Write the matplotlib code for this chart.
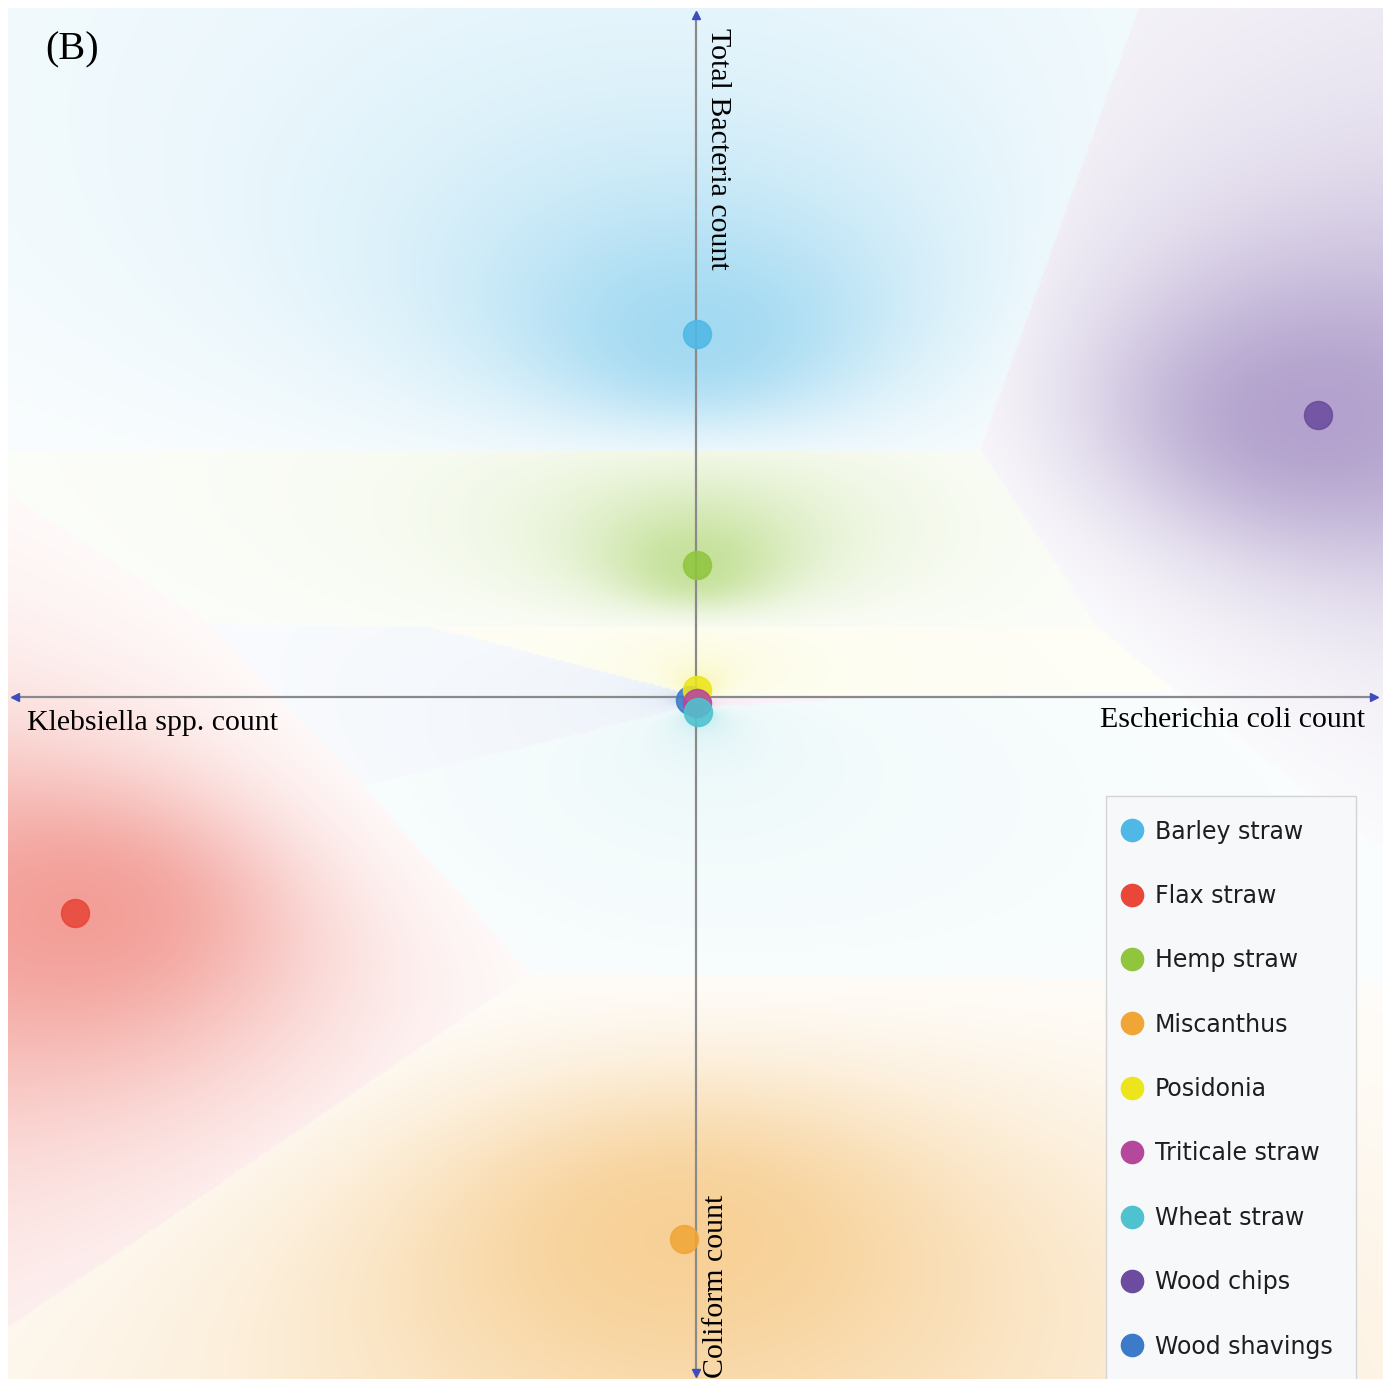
import numpy as np
import matplotlib.pyplot as plt
from matplotlib.colors import to_rgb
from matplotlib.lines import Line2D

# muestras y posiciones en la proyeccion
samples = ["Barley straw", "Flax straw", "Hemp straw", "Miscanthus", "Posidonia",
           "Triticale straw", "Wheat straw", "Wood chips", "Wood shavings"]
x_vals = [0.002, -0.903, 0.002, -0.017, 0.002, 0.002, 0.004, 0.905, -0.008]
y_vals = [0.528, -0.314, 0.192, -0.788, 0.010, -0.009, -0.022, 0.410, -0.004]
colors = ["#4fb8e6", "#e8473a", "#90c63e", "#f0a637", "#ece51c",
          "#b5479c", "#4ec3cf", "#6b4c9f", "#3b7bc9"]
axis_labels = ["Total Bacteria count", "Coliform count",
               "Klebsiella spp. count", "Escherichia coli count"]

fig = plt.figure(figsize=(13.85, 13.79), dpi=100)
ax = fig.add_axes([8 / 1385, 0, 1375 / 1385, 1371 / 1379])
x0, x1, y0, y1 = -1.0, 1.0, -0.992, 1.002
ax.set_xlim(x0, x1)
ax.set_ylim(y0, y1)
ax.axis("off")

# mapa de fondo (probabilidad de clase por distancia inversa)
gx = np.linspace(x0, x1, 700)
gy = np.linspace(y0, y1, 700)
X, Y = np.meshgrid(gx, gy)
px = np.array(x_vals)
py = np.array(y_vals)
dx = (X[..., None] - px) / 1.66
dy = Y[..., None] - py
d2 = dx ** 2 + dy ** 2 + 1e-7
w = d2 ** -1.2
p = w / w.sum(axis=-1, keepdims=True)
idx = p.argmax(axis=-1)
pmax = p.max(axis=-1)
cols = np.array([to_rgb(c) for c in colors])
a = 0.52 * pmax ** 1.5
rgb = 1 - a[..., None] * (1 - cols[idx])
ax.imshow(rgb, extent=(x0, x1, y0, y1), origin="lower", aspect="auto",
          interpolation="bilinear", zorder=0)

# ejes
ax.plot([-0.99, 0.987], [0, 0], color="#8a8a8a", lw=1.6, zorder=1)
ax.plot([0, 0], [-0.983, 0.992], color="#8a8a8a", lw=1.6, zorder=1)
ax.plot([-0.99], [0], marker="<", color="#3c4dbf", ms=6, zorder=2)
ax.plot([0.987], [0], marker=">", color="#3c4dbf", ms=6, zorder=2)
ax.plot([0], [0.992], marker="^", color="#3c4dbf", ms=6, zorder=2)
ax.plot([0], [-0.983], marker="v", color="#3c4dbf", ms=6, zorder=2)

serif = "Liberation Serif"
ax.text(0.0138, 0.973, axis_labels[0], rotation=-90, ha="left", va="top",
        fontsize=21.5, family=serif, zorder=3)
ax.text(0.011, -0.99, axis_labels[1], rotation=90, ha="left", va="bottom",
        fontsize=21.5, family=serif, zorder=3)
ax.text(-0.9724, -0.0378, axis_labels[2], ha="left", va="center",
        fontsize=21.5, family=serif, zorder=3)
ax.text(0.974, -0.0335, axis_labels[3], ha="right", va="center",
        fontsize=21.5, family=serif, zorder=3)
ax.text(-0.946, 0.941, "(B)", ha="left", va="center", fontsize=29,
        family=serif, zorder=3)

# puntos
order = [8, 7, 0, 1, 2, 3, 4, 5, 6]
for i in order:
    ax.scatter(x_vals[i], y_vals[i], s=400, color=colors[i], alpha=0.88,
               edgecolors=colors[i], linewidths=1.2, zorder=4 + order.index(i))

handles = [Line2D([], [], marker="o", ls="", ms=16, color=c, markeredgecolor=c)
           for c in colors]
leg = fig.legend(handles, samples, loc="upper left",
                 bbox_to_anchor=(1106 / 1385, 1 - 796 / 1379),
                 bbox_transform=fig.transFigure, borderaxespad=0,
                 prop={"family": "DejaVu Sans", "size": 17},
                 labelspacing=1.71, borderpad=1.0, handlelength=0.2,
                 handletextpad=0.88, fancybox=False, framealpha=1,
                 facecolor="#f7f8f9", edgecolor="#d4d4d4")
leg.get_frame().set_linewidth(1)
for t in leg.get_texts():
    t.set_color("#1e1e1e")

plt.savefig("out.png", dpi=100)
